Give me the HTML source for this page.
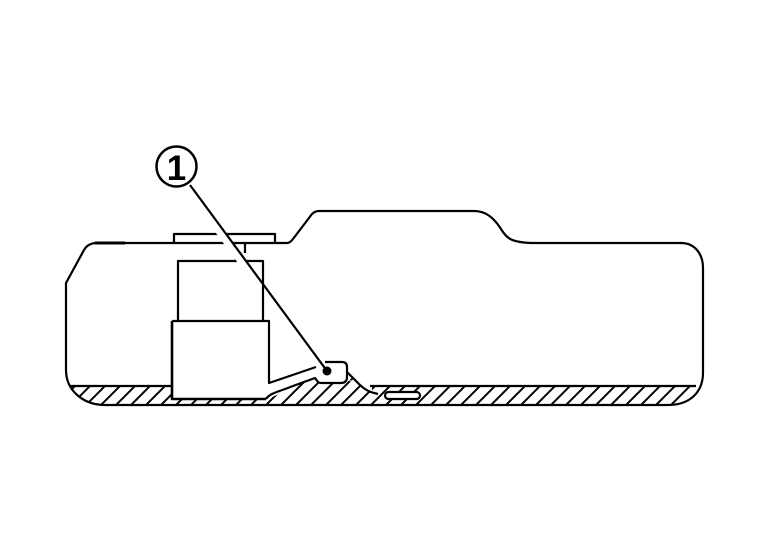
<!DOCTYPE html>
<html><head><meta charset="utf-8"><style>html,body{margin:0;padding:0;background:#fff}svg{display:block}</style></head>
<body>
<svg width="768" height="544" viewBox="0 0 768 544" xmlns="http://www.w3.org/2000/svg">
<defs>
<clipPath id="o"><path d="M66 370V283L84 250Q88 243 97 243H287Q290 243 293 239L312 214Q315 211 319 211H474C486 211 494 218 501 229C507 239 512 242 530 243H681C694 243 703 253 703 268V373C703 392 690 405 668 405H105C85 405 66 392 66 370Z"/></clipPath>
<clipPath id="u"><path d="M293 386L315 378L318 383H347V373L362 386Z"/></clipPath>
<pattern id="p" width="15" height="15" patternUnits="userSpaceOnUse" patternTransform="translate(0,386)">
<path d="M-4 4L4 -4M11 19L19 11M-4 19L19 -4" stroke="#000" stroke-width="2"/>
</pattern>
</defs>
<rect width="768" height="544" fill="#fff"/>
<g clip-path="url(#o)"><rect x="60" y="386" width="650" height="25" fill="url(#p)"/></g>
<g clip-path="url(#u)"><rect x="285" y="370" width="85" height="20" fill="url(#p)"/></g>
<path d="M172 386V399H268L296 386ZM347 380L360 385L372 392V383Z" fill="#fff"/>
<g fill="none" stroke="#000" stroke-width="2.2" stroke-linejoin="round">
<path d="M66 370V283L84 250Q88 243 97 243H287Q290 243 293 239L312 214Q315 211 319 211H474C486 211 494 218 501 229C507 239 512 242 530 243H681C694 243 703 253 703 268V373C703 392 690 405 668 405H105C85 405 66 392 66 370Z"/>
<path d="M70 386H172M370 386H696"/>
<path d="M95 243H125" stroke-width="3"/>
<path d="M174 243V234H275V243"/>
<path d="M236 253V261M245 243V253"/>
<path d="M178 321V261H263V321"/>
<path d="M172 321H269V383L316 367"/>
<path d="M172 321V399H266" stroke-width="2.6"/>
<path d="M266 399C270 393 278 392 293 386L315 378L318 382Q319 383 322 383H341Q347 383 347 377V367Q347 362 342 362H325"/>
<path d="M347 372L360 385Q367 392 378 394"/>
<rect x="385" y="392" width="35" height="7" rx="3.5" fill="#fff"/>
</g>
<path d="M215 225L248 270" stroke="#fff" stroke-width="8" fill="none"/>
<path d="M190 185L327 371" stroke="#000" stroke-width="2.2" fill="none"/>
<circle cx="327" cy="371" r="4.5" fill="#000"/>
<circle cx="176.5" cy="166.5" r="20" fill="#fff" stroke="#000" stroke-width="2.5"/>
<text x="176.5" y="180" text-anchor="middle" font-family="Liberation Sans, sans-serif" font-size="35" font-weight="bold" fill="#000">1</text>
</svg>
</body></html>
